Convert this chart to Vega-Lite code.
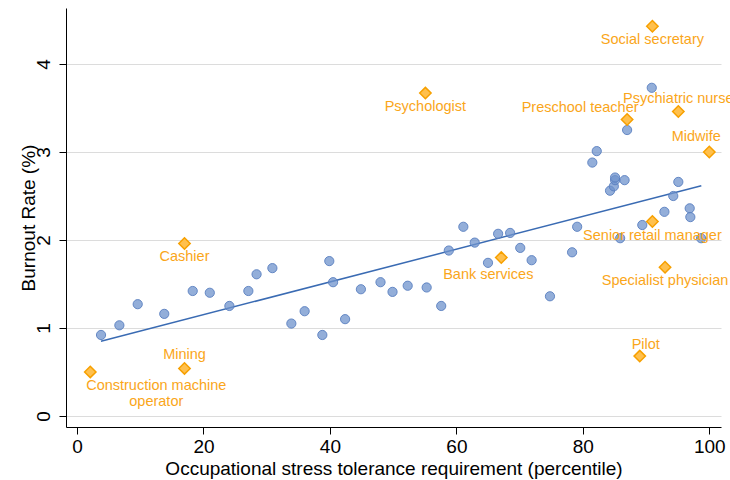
{
  "$schema": "https://vega.github.io/schema/vega-lite/v6.json",
  "width": 655,
  "height": 419,
  "autosize": "none",
  "padding": {"left": 66, "top": 8, "right": 9, "bottom": 53},
  "background": "white",
  "config": {
    "view": {"stroke": null},
    "font": "Liberation Sans",
    "axis": {"labelFont": "Liberation Sans", "titleFont": "Liberation Sans", "labelColor": "#000", "titleColor": "#000", "titleFontWeight": "normal", "domainColor": "#000", "tickColor": "#000", "tickSize": 7, "labelFontSize": 19, "titleFontSize": 19}
  },
  "datasets": {
    "others": [
      {"stress": 3.8, "burnout": 0.92}, {"stress": 6.7, "burnout": 1.03}, {"stress": 9.6, "burnout": 1.27},
      {"stress": 13.8, "burnout": 1.16}, {"stress": 18.3, "burnout": 1.42}, {"stress": 21.0, "burnout": 1.40},
      {"stress": 24.1, "burnout": 1.25}, {"stress": 27.1, "burnout": 1.42}, {"stress": 28.4, "burnout": 1.61},
      {"stress": 30.9, "burnout": 1.68}, {"stress": 33.9, "burnout": 1.05}, {"stress": 36.0, "burnout": 1.19},
      {"stress": 38.8, "burnout": 0.92}, {"stress": 39.9, "burnout": 1.76}, {"stress": 40.5, "burnout": 1.52},
      {"stress": 42.4, "burnout": 1.10}, {"stress": 44.9, "burnout": 1.44}, {"stress": 48.0, "burnout": 1.52},
      {"stress": 49.9, "burnout": 1.41}, {"stress": 52.3, "burnout": 1.48}, {"stress": 55.3, "burnout": 1.46},
      {"stress": 57.6, "burnout": 1.25}, {"stress": 58.8, "burnout": 1.88}, {"stress": 61.1, "burnout": 2.15},
      {"stress": 62.9, "burnout": 1.97}, {"stress": 65.0, "burnout": 1.74}, {"stress": 66.6, "burnout": 2.07},
      {"stress": 68.5, "burnout": 2.08}, {"stress": 70.1, "burnout": 1.91}, {"stress": 71.9, "burnout": 1.77},
      {"stress": 74.8, "burnout": 1.36}, {"stress": 78.3, "burnout": 1.86}, {"stress": 79.1, "burnout": 2.15},
      {"stress": 81.5, "burnout": 2.88}, {"stress": 82.2, "burnout": 3.01}, {"stress": 84.3, "burnout": 2.56},
      {"stress": 84.9, "burnout": 2.61}, {"stress": 85.1, "burnout": 2.68}, {"stress": 85.1, "burnout": 2.71},
      {"stress": 86.6, "burnout": 2.68}, {"stress": 85.9, "burnout": 2.02}, {"stress": 87.0, "burnout": 3.25},
      {"stress": 89.4, "burnout": 2.17}, {"stress": 90.9, "burnout": 3.73}, {"stress": 92.9, "burnout": 2.32},
      {"stress": 94.3, "burnout": 2.50}, {"stress": 95.1, "burnout": 2.66}, {"stress": 96.9, "burnout": 2.36},
      {"stress": 97.0, "burnout": 2.26}, {"stress": 98.7, "burnout": 2.02}
    ],
    "highlighted": [
      {"occupation": "Social secretary", "stress": 91.0, "burnout": 4.43},
      {"occupation": "Psychologist", "stress": 55.1, "burnout": 3.67},
      {"occupation": "Preschool teacher", "stress": 87.0, "burnout": 3.37},
      {"occupation": "Psychiatric nurse", "stress": 95.1, "burnout": 3.46},
      {"occupation": "Midwife", "stress": 100.0, "burnout": 3.00},
      {"occupation": "Senior retail manager", "stress": 91.0, "burnout": 2.21},
      {"occupation": "Bank services", "stress": 67.1, "burnout": 1.80},
      {"occupation": "Specialist physician", "stress": 93.0, "burnout": 1.69},
      {"occupation": "Pilot", "stress": 89.0, "burnout": 0.68},
      {"occupation": "Cashier", "stress": 17.0, "burnout": 1.96},
      {"occupation": "Mining", "stress": 17.0, "burnout": 0.54},
      {"occupation": "Construction machine\noperator", "stress": 2.1, "burnout": 0.50}
    ],
    "fit": [
      {"stress": 3.79, "burnout": 0.849},
      {"stress": 98.74, "burnout": 2.616}
    ]
  },
  "encoding": {
    "x": {"field": "stress", "type": "quantitative",
      "scale": {"domain": [-1.74, 101.85], "nice": false, "zero": false},
      "axis": {"values": [0, 20, 40, 60, 80, 100], "grid": false, "title": "Occupational stress tolerance requirement (percentile)", "labelPadding": 3, "titleY": 41, "titleBaseline": "middle"}},
    "y": {"field": "burnout", "type": "quantitative",
      "scale": {"domain": [-0.126, 4.637], "nice": false, "zero": false},
      "axis": {"values": [0, 1, 2, 3, 4], "grid": true, "gridColor": "#dcdcdc", "gridWidth": 1, "title": "Burnout Rate (%)", "labelAngle": -90, "labelAlign": "center", "labelBaseline": "bottom", "labelPadding": 6, "titleX": -38, "titleBaseline": "middle"}}
  },
  "layer": [
    {
      "data": {"name": "fit"},
      "mark": {"type": "line", "color": "#3a6bb3", "strokeWidth": 1.5}
    },
    {
      "data": {"name": "others"},
      "mark": {"type": "circle", "size": 85, "fill": "#6f93cc", "fillOpacity": 0.75, "stroke": "#5a80c0", "strokeWidth": 1, "strokeOpacity": 0.9}
    },
    {
      "data": {"name": "highlighted"},
      "mark": {"type": "point", "shape": "diamond", "size": 130, "filled": true, "fill": "#ffc04d", "fillOpacity": 1, "stroke": "#f7a000", "strokeWidth": 1.5}
    },
    {
      "data": {"name": "highlighted"},
      "transform": [{"filter": {"field": "occupation", "oneOf": ["Social secretary", "Psychologist", "Senior retail manager", "Specialist physician", "Cashier"]}}],
      "mark": {"type": "text", "fontSize": 14.5, "color": "#faa61a", "align": "center", "baseline": "middle", "dy": 14},
      "encoding": {"text": {"field": "occupation"}}
    },
    {
      "data": {"name": "highlighted"},
      "transform": [{"filter": {"field": "occupation", "equal": "Bank services"}}],
      "mark": {"type": "text", "fontSize": 14.5, "color": "#faa61a", "align": "center", "baseline": "middle", "dx": -13, "dy": 17},
      "encoding": {"text": {"field": "occupation"}}
    },
    {
      "data": {"name": "highlighted"},
      "transform": [{"filter": {"field": "occupation", "oneOf": ["Mining", "Psychiatric nurse"]}}],
      "mark": {"type": "text", "fontSize": 14.5, "color": "#faa61a", "align": "center", "baseline": "middle", "dy": -13},
      "encoding": {"text": {"field": "occupation"}}
    },
    {
      "data": {"name": "highlighted"},
      "transform": [{"filter": {"field": "occupation", "equal": "Pilot"}}],
      "mark": {"type": "text", "fontSize": 14.5, "color": "#faa61a", "align": "center", "baseline": "middle", "dx": 6, "dy": -11},
      "encoding": {"text": {"field": "occupation"}}
    },
    {
      "data": {"name": "highlighted"},
      "transform": [{"filter": {"field": "occupation", "equal": "Preschool teacher"}}],
      "mark": {"type": "text", "fontSize": 14.5, "color": "#faa61a", "align": "center", "baseline": "middle", "dx": -47, "dy": -11},
      "encoding": {"text": {"field": "occupation"}}
    },
    {
      "data": {"name": "highlighted"},
      "transform": [{"filter": {"field": "occupation", "equal": "Midwife"}}],
      "mark": {"type": "text", "fontSize": 14.5, "color": "#faa61a", "align": "center", "baseline": "middle", "dx": -13, "dy": -15},
      "encoding": {"text": {"field": "occupation"}}
    },
    {
      "data": {"name": "highlighted"},
      "transform": [{"filter": {"field": "occupation", "equal": "Construction machine\noperator"}}],
      "mark": {"type": "text", "fontSize": 14.5, "color": "#faa61a", "align": "center", "baseline": "middle", "dx": 66, "dy": 14, "lineBreak": "\n", "lineHeight": 16},
      "encoding": {"text": {"field": "occupation"}}
    },
    {
      "data": {"values": [{}]},
      "mark": {"type": "text", "fontSize": 16, "color": "#000", "align": "left", "baseline": "top", "lineHeight": 15, "text": ["Slope = 0.012", "N = 410"]},
      "encoding": {"x": {"datum": -1.5, "type": "quantitative"}, "y": {"datum": 4.62, "type": "quantitative"}}
    }
  ]
}
